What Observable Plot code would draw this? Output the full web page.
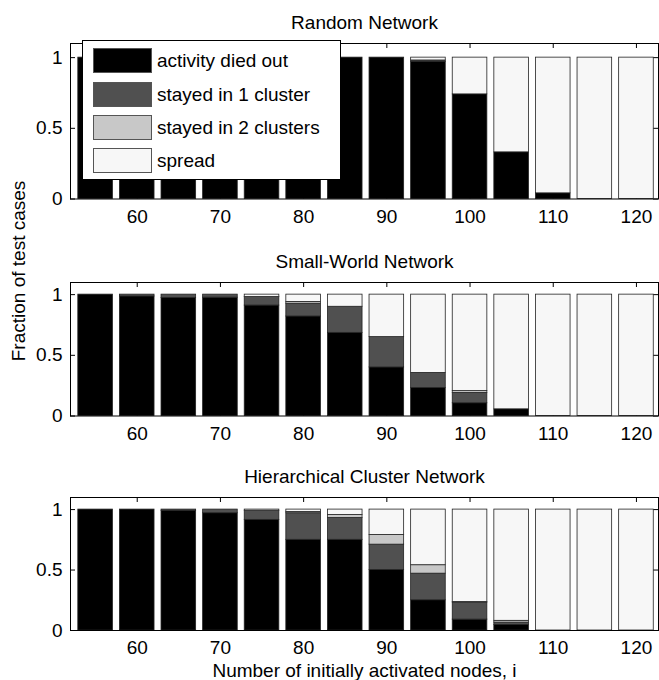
<!DOCTYPE html>
<html><head><meta charset="utf-8">
<script src="https://cdn.jsdelivr.net/npm/d3@7"></script>
<script src="https://cdn.jsdelivr.net/npm/@observablehq/plot@0.6"></script>
<style>
body{margin:0;background:#fff;}
#c{position:relative;width:659px;height:680px;overflow:hidden;font-family:"Liberation Sans",Arial,sans-serif;}
#c svg{position:absolute;left:0;}
#legend{position:absolute;left:82px;top:40px;width:257px;height:138px;border:1px solid #000;background:#fff;z-index:5;}
.sw{position:absolute;left:10px;width:57px;height:23px;border:1px solid #555;}
.lt{position:absolute;left:74px;height:25px;line-height:25px;font-size:19px;white-space:nowrap;color:#000;}
</style></head><body><div id="c"></div>
<script>
const categories = ["activity died out","stayed in 1 cluster","stayed in 2 clusters","spread"];
const colors = ["#000000","#505050","#c8c8c8","#f7f7f7"];
const nodes = [55,60,65,70,75,80,85,90,95,100,105,110,115,120];
const xTicks = [60,70,80,90,100,110,120];
const yTicks = [0,0.5,1];
const yTickLabels = ["0","0.5","1"];
const titles = ["Random Network","Small-World Network","Hierarchical Cluster Network"];
const yLabel = "Fraction of test cases";
const xLabel = "Number of initially activated nodes, i";

// Random Network
const randomDied   = [1,1,1,1,1,1,1,1,0.97,0.74,0.33,0.04,0,0];
const randomOne    = [0,0,0,0,0,0,0,0,0.01,0,0,0,0,0];
const randomTwo    = [0,0,0,0,0,0,0,0,0,0,0,0,0,0];
const randomSpread = [0,0,0,0,0,0,0,0,0.02,0.26,0.67,0.96,1,1];
// Small-World Network
const swDied   = [1,0.985,0.972,0.975,0.91,0.82,0.685,0.40,0.23,0.105,0.055,0,0,0];
const swOne    = [0,0.015,0.028,0.025,0.07,0.105,0.215,0.25,0.125,0.085,0,0,0,0];
const swTwo    = [0,0,0,0,0,0.015,0,0,0,0.015,0,0,0,0];
const swSpread = [0,0,0,0,0.02,0.06,0.10,0.35,0.645,0.795,0.945,1,1,1];
// Hierarchical Cluster Network
const hcDied   = [1,1,0.99,0.97,0.915,0.75,0.75,0.50,0.25,0.09,0.045,0,0,0];
const hcOne    = [0,0,0.01,0.03,0.075,0.22,0.18,0.21,0.22,0.14,0.02,0,0,0];
const hcTwo    = [0,0,0,0,0,0.01,0.025,0.08,0.07,0.005,0.015,0,0,0];
const hcSpread = [0,0,0,0,0.01,0.02,0.045,0.21,0.46,0.765,0.92,1,1,1];

function table(series){
  const rows=[];
  nodes.forEach((n,i)=>{
    let acc=0;
    categories.forEach((c,k)=>{
      const v=series[k][i];
      if(v>0) rows.push({n,cat:c,y1:acc,y2:acc+v});
      acc+=v;
    });
  });
  return rows;
}

const W=659, ML=70, MR=1, MT=35, MB=50, halfW=2.08;
const plotW = W-ML-MR;
const font = "Liberation Sans, Arial, sans-serif";
const container = document.getElementById("c");

function panel(title, series, plotH, top, extra){
  const rows = table(series);
  const p = Plot.plot({
    width: W, height: MT+plotH+MB,
    marginLeft: ML, marginRight: MR, marginTop: MT, marginBottom: MB,
    style: {fontFamily: font, fontSize: "19px", color: "black", background: "transparent", overflow: "visible"},
    x: {domain: [51.98, 122.65], ticks: xTicks},
    y: {domain: [0, 1.1], ticks: yTicks},
    color: {domain: categories, range: colors},
    marks: [
      Plot.tickX(xTicks, {x: d=>d, insetBottom: plotH-5, stroke: "black"}),
      Plot.tickX(xTicks, {x: d=>d, insetTop: plotH-5, stroke: "black"}),
      Plot.tickY(yTicks, {y: d=>d, insetRight: plotW-5, stroke: "black"}),
      Plot.tickY(yTicks, {y: d=>d, insetLeft: plotW-5, stroke: "black"}),
      Plot.rect(rows, {x1: d=>d.n-halfW, x2: d=>d.n+halfW, y1: "y1", y2: "y2", fill: "cat", stroke: "#222", strokeWidth: 0.8}),
      Plot.axisX({ticks: xTicks, tickSize: 0, tickPadding: 10, fontSize: 19, label: null}),
      Plot.axisY({ticks: yTicks, tickSize: 0, tickPadding: 8, fontSize: 19, label: null,
                  tickFormat: d => yTickLabels[yTicks.indexOf(d)]}),
      Plot.frame({stroke: "black"}),
      Plot.text([title], {frameAnchor: "top", dy: -14.5, lineAnchor: "bottom", fontSize: 19, fill: "black"}),
      ...extra
    ]
  });
  p.style.top = top + "px";
  container.appendChild(p);
}

panel(titles[0], [randomDied, randomOne, randomTwo, randomSpread], 155.5, 43-MT, []);
panel(titles[1], [swDied, swOne, swTwo, swSpread], 133.5, 281.5-MT, [
  Plot.text([yLabel], {frameAnchor: "left", dx: 18.5-ML, dy: 12, rotate: -90, fontSize: 19, fill: "black"})
]);
panel(titles[2], [hcDied, hcOne, hcTwo, hcSpread], 133, 497-MT, [
  Plot.text([xLabel], {frameAnchor: "bottom", dy: 46, lineAnchor: "bottom", fontSize: 19, fill: "black"})
]);

// legend
const lg = document.createElement("div");
lg.id = "legend";
const centers = [60.7, 94, 127.3, 160.7];
categories.forEach((c,k)=>{
  const sw = document.createElement("div");
  sw.className = "sw";
  sw.style.top = (centers[k]-12.5-41) + "px";
  sw.style.background = colors[k];
  lg.appendChild(sw);
  const t = document.createElement("div");
  t.className = "lt";
  t.style.top = (centers[k]-12.5-41) + "px";
  t.textContent = c;
  lg.appendChild(t);
});
container.appendChild(lg);
</script></body></html>
